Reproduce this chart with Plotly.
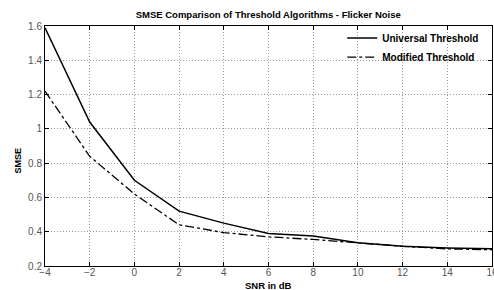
import plotly.graph_objects as go

snr = [-4, -2, 0, 2, 4, 6, 8, 10, 12, 14, 16]
universal = [1.59, 1.04, 0.70, 0.52, 0.45, 0.39, 0.375, 0.335, 0.315, 0.305, 0.30]
modified = [1.22, 0.84, 0.62, 0.44, 0.395, 0.37, 0.355, 0.335, 0.315, 0.30, 0.295]

FONT = "Liberation Sans, Arial"

fig = go.Figure()
fig.add_trace(go.Scatter(x=snr, y=universal, mode="lines", name="<b>Universal Threshold</b>",
                         line=dict(color="black", width=1.5)))
fig.add_trace(go.Scatter(x=snr, y=modified, mode="lines", name="<b>Modified Threshold</b>",
                         line=dict(color="black", width=1.3, dash="dashdot")))

axis_common = dict(showline=True, linecolor="black", linewidth=1, mirror="ticks",
                   ticks="inside", ticklen=4, tickcolor="black",
                   showgrid=True, gridcolor="#9a9a9a", griddash="1px,2px", gridwidth=1,
                   zeroline=False, automargin=False, ticklabeloverflow="allow",
                   tickfont=dict(family=FONT, size=10, color="#555555"))

fig.update_layout(
    width=494, height=290,
    margin=dict(l=45, r=2, t=26, b=24),
    paper_bgcolor="white", plot_bgcolor="white",
    title=dict(text="<b>SMSE Comparison of Threshold Algorithms - Flicker Noise</b>",
               x=0.543, xanchor="center", y=0.95, yanchor="middle",
               font=dict(family=FONT, size=9.5, color="black")),
    xaxis=dict(range=[-4, 16], dtick=2, ticklabelstandoff=-3, **axis_common),
    yaxis=dict(range=[0.2, 1.6], dtick=0.2, **axis_common),
    legend=dict(x=0.665, y=1.01, xanchor="left", yanchor="top", bgcolor="rgba(255,255,255,0)",
                borderwidth=0, tracegroupgap=0, itemwidth=30,
                font=dict(family=FONT, size=10, color="black")),
    showlegend=True,
    annotations=[
        dict(text="<b>SNR in dB</b>", xref="paper", yref="paper", x=0.5, y=-0.08,
             xanchor="center", yanchor="middle", showarrow=False,
             font=dict(family=FONT, size=9.5, color="black")),
        dict(text="<b>SMSE</b>", xref="paper", yref="paper", x=-0.06, y=0.44,
             xanchor="center", yanchor="middle", showarrow=False, textangle=-90,
             font=dict(family=FONT, size=9, color="black")),
    ],
)

fig.write_html("out.html", config={"displayModeBar": False})

# remove default page margin so the figure sits at the window's top-left corner
with open("out.html", "r", encoding="utf-8") as f:
    html = f.read()
html = html.replace("<body>", '<body style="margin:0;padding:0;overflow:hidden">', 1)
with open("out.html", "w", encoding="utf-8") as f:
    f.write(html)
